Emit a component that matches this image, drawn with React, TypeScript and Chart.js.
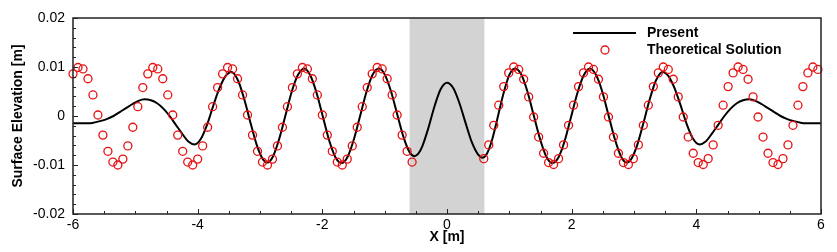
import { useEffect, useRef } from 'react';
import { Chart, registerables } from 'chart.js';

Chart.register(...registerables);

// ---------- data ----------
const theoryX: number[] = [
  -6.00, -5.92, -5.84, -5.76, -5.68, -5.60, -5.52, -5.44, -5.36, -5.28, -5.20, -5.12, -5.04, -4.96, -4.88,
  -4.80, -4.72, -4.64, -4.56, -4.48, -4.40, -4.32, -4.24, -4.16, -4.08, -4.00, -3.92, -3.84, -3.76, -3.68,
  -3.60, -3.52, -3.44, -3.36, -3.28, -3.20, -3.12, -3.04, -2.96, -2.88, -2.80, -2.72, -2.64, -2.56, -2.48,
  -2.40, -2.32, -2.24, -2.16, -2.08, -2.00, -1.92, -1.84, -1.76, -1.68, -1.60, -1.52, -1.44, -1.36, -1.28,
  -1.20, -1.12, -1.04, -0.96, -0.88, -0.80, -0.72, -0.64, -0.56,
  0.59, 0.67, 0.75, 0.83, 0.91, 0.99, 1.07, 1.15, 1.23, 1.31, 1.39, 1.47, 1.55, 1.63, 1.71,
  1.79, 1.87, 1.95, 2.03, 2.11, 2.19, 2.27, 2.35, 2.43, 2.51, 2.59, 2.67, 2.75, 2.83, 2.91,
  2.99, 3.07, 3.15, 3.23, 3.31, 3.39, 3.47, 3.55, 3.63, 3.71, 3.79, 3.87, 3.95, 4.03, 4.11,
  4.19, 4.27, 4.35, 4.43, 4.51, 4.59, 4.67, 4.75, 4.83, 4.91, 4.99, 5.07, 5.15, 5.23, 5.31,
  5.39, 5.47, 5.55, 5.63, 5.71, 5.79, 5.87, 5.95,
];

const theoryY: number[] = [
  0.0086, 0.0099, 0.0096, 0.0076, 0.0043, 0.0002, -0.0039, -0.0072, -0.0094, -0.0100, -0.0088, -0.0061, -0.0023, 0.0019, 0.0058,
  0.0086, 0.0099, 0.0096, 0.0076, 0.0043, 0.0002, -0.0039, -0.0072, -0.0094, -0.0100, -0.0088, -0.0061, -0.0023, 0.0019, 0.0058,
  0.0086, 0.0099, 0.0096, 0.0076, 0.0043, 0.0002, -0.0039, -0.0072, -0.0094, -0.0100, -0.0088, -0.0061, -0.0023, 0.0019, 0.0058,
  0.0086, 0.0099, 0.0096, 0.0076, 0.0043, 0.0002, -0.0039, -0.0072, -0.0094, -0.0100, -0.0088, -0.0061, -0.0023, 0.0019, 0.0058,
  0.0086, 0.0099, 0.0096, 0.0076, 0.0043, 0.0002, -0.0039, -0.0072, -0.0094,
  -0.0087, -0.0059, -0.0019, 0.0022, 0.0060, 0.0088, 0.0100, 0.0095, 0.0075, 0.0039, -0.0002, -0.0043, -0.0076, -0.0095, -0.0099,
  -0.0087, -0.0059, -0.0019, 0.0022, 0.0060, 0.0088, 0.0100, 0.0095, 0.0075, 0.0039, -0.0002, -0.0043, -0.0076, -0.0095, -0.0099,
  -0.0087, -0.0059, -0.0019, 0.0022, 0.0060, 0.0088, 0.0100, 0.0095, 0.0075, 0.0039, -0.0002, -0.0043, -0.0076, -0.0095, -0.0099,
  -0.0087, -0.0059, -0.0019, 0.0022, 0.0060, 0.0088, 0.0100, 0.0095, 0.0075, 0.0039, -0.0002, -0.0043, -0.0076, -0.0095, -0.0099,
  -0.0087, -0.0059, -0.0019, 0.0022, 0.0060, 0.0088, 0.0100, 0.0095,
];

const presentX: number[] = [
  -6.00, -5.85, -5.75, -5.65, -5.55, -5.45, -5.35, -5.25, -5.15, -5.05, -4.95, -4.85, -4.75, -4.65, -4.55,
  -4.45, -4.35, -4.25, -4.15, -4.05, -3.95, -3.85, -3.75, -3.65, -3.55, -3.46, -3.35, -3.25, -3.15, -3.05,
  -2.95, -2.88, -2.79, -2.69, -2.59, -2.49, -2.39, -2.29, -2.19, -2.09, -1.99, -1.89, -1.79, -1.69, -1.59,
  -1.49, -1.39, -1.29, -1.19, -1.09, -1.00, -0.90, -0.80, -0.70, -0.60, -0.52, -0.46, -0.40, -0.30, -0.20,
  -0.10, 0.00, 0.10, 0.20, 0.30, 0.40, 0.50, 0.57, 0.64, 0.72, 0.80, 0.90, 1.00, 1.09, 1.19,
  1.29, 1.39, 1.49, 1.59, 1.69, 1.79, 1.89, 1.99, 2.09, 2.19, 2.29, 2.39, 2.49, 2.59, 2.69,
  2.79, 2.88, 2.95, 3.05, 3.15, 3.25, 3.35, 3.46, 3.55, 3.65, 3.75, 3.85, 3.95, 4.05, 4.15,
  4.25, 4.35, 4.45, 4.55, 4.65, 4.75, 4.85, 4.95, 5.05, 5.15, 5.25, 5.35, 5.45, 5.55, 5.65,
  5.75, 5.85, 6.00,
];

const presentY: number[] = [
  -0.0015, -0.0015, -0.0015, -0.0013, -0.0010, -0.0006, 0.0000, 0.0008, 0.0016, 0.0024, 0.0031, 0.0034, 0.0032, 0.0026, 0.0015,
  0.0000, -0.0018, -0.0036, -0.0052, -0.0058, -0.0047, -0.0018, 0.0021, 0.0057, 0.0082, 0.0090, 0.0072, 0.0033, -0.0015, -0.0060,
  -0.0089, -0.0095, -0.0082, -0.0046, 0.0002, 0.0050, 0.0084, 0.0097, 0.0082, 0.0046, -0.0002, -0.0050, -0.0084, -0.0096, -0.0082,
  -0.0046, 0.0002, 0.0050, 0.0085, 0.0097, 0.0085, 0.0051, 0.0004, -0.0042, -0.0074, -0.0082, -0.0077, -0.0063, -0.0025, 0.0020,
  0.0055, 0.0068, 0.0057, 0.0026, -0.0015, -0.0054, -0.0079, -0.0085, -0.0077, -0.0050, -0.0010, 0.0043, 0.0084, 0.0097, 0.0085,
  0.0050, 0.0002, -0.0046, -0.0082, -0.0096, -0.0084, -0.0050, -0.0002, 0.0046, 0.0082, 0.0097, 0.0084, 0.0050, 0.0002, -0.0046,
  -0.0082, -0.0095, -0.0089, -0.0060, -0.0015, 0.0033, 0.0072, 0.0090, 0.0082, 0.0057, 0.0021, -0.0018, -0.0047, -0.0058, -0.0052,
  -0.0036, -0.0018, 0.0000, 0.0015, 0.0026, 0.0032, 0.0034, 0.0031, 0.0024, 0.0016, 0.0008, 0.0000, -0.0006, -0.0010, -0.0013,
  -0.0015, -0.0015, -0.0015,
];

const xTickLabels = ['-6', '-4', '-2', '0', '2', '4', '6'];
const yTickLabels = ['-0.02', '-0.01', '0', '0.01', '0.02'];
const bandRange = [-0.6, 0.6];
const seriesNames = ['Present', 'Theoretical Solution'];

const FONT = 'Liberation Sans, Arial, Helvetica, sans-serif';
const RED = 'rgb(232,16,16)';

const bandPlugin = {
  id: 'band',
  beforeDatasetsDraw(chart: any) {
    const { ctx, chartArea, scales } = chart;
    const x0 = scales.x.getPixelForValue(bandRange[0]);
    const x1 = scales.x.getPixelForValue(bandRange[1]);
    ctx.save();
    ctx.fillStyle = '#d3d3d3';
    ctx.fillRect(x0, chartArea.top, x1 - x0, chartArea.bottom - chartArea.top);
    ctx.restore();
  },
};

const framePlugin = {
  id: 'frame',
  afterDatasetsDraw(chart: any) {
    const { ctx, chartArea, scales } = chart;
    const { left, right, top, bottom } = chartArea;
    ctx.save();
    ctx.strokeStyle = '#222';
    ctx.lineWidth = 1;
    ctx.beginPath();
    for (let v = -6; v <= 6.0001; v += 0.5) {
      const px = Math.round(scales.x.getPixelForValue(v)) + 0.5;
      const major = Math.abs(v / 2 - Math.round(v / 2)) < 1e-6;
      const len = major ? 5 : 3;
      ctx.moveTo(px, bottom);
      ctx.lineTo(px, bottom - len);
    }
    for (let i = -10; i <= 10; i++) {
      const v = i * 0.002;
      const py = Math.round(scales.y.getPixelForValue(v)) + 0.5;
      const major = i % 5 === 0;
      const len = major ? 5 : 3;
      ctx.moveTo(left, py);
      ctx.lineTo(left + len, py);
    }
    ctx.stroke();
    ctx.lineWidth = 1.5;
    ctx.strokeStyle = '#222';
    ctx.strokeRect(left, top, right - left, bottom - top);
    ctx.restore();
  },
};

const legendPlugin = {
  id: 'customLegend',
  afterDraw(chart: any) {
    const { ctx } = chart;
    ctx.save();
    ctx.font = `bold 14px ${FONT}`;
    ctx.fillStyle = '#000';
    ctx.textBaseline = 'middle';
    ctx.textAlign = 'left';
    ctx.strokeStyle = '#000';
    ctx.lineWidth = 2;
    ctx.beginPath();
    ctx.moveTo(573, 33);
    ctx.lineTo(636, 33);
    ctx.stroke();
    ctx.fillText(seriesNames[0], 647, 33);
    ctx.strokeStyle = RED;
    ctx.lineWidth = 1.3;
    ctx.beginPath();
    ctx.arc(605, 50, 4, 0, Math.PI * 2);
    ctx.stroke();
    ctx.fillText(seriesNames[1], 647, 50);
    ctx.restore();
  },
};

export default function App() {
  const canvasRef = useRef<HTMLCanvasElement | null>(null);

  useEffect(() => {
    if (!canvasRef.current) return;
    const chart = new Chart(canvasRef.current, {
      type: 'scatter',
      data: {
        datasets: [
          {
            label: seriesNames[1],
            data: theoryX.map((x, i) => ({ x, y: theoryY[i] })),
            showLine: false,
            pointStyle: 'circle',
            pointRadius: 4,
            pointBorderWidth: 1.3,
            pointBorderColor: RED,
            pointBackgroundColor: 'rgba(0,0,0,0)',
            clip: false as any,
          },
          {
            label: seriesNames[0],
            data: presentX.map((x, i) => ({ x, y: presentY[i] })),
            showLine: true,
            borderColor: '#000',
            borderWidth: 2,
            pointRadius: 0,
            cubicInterpolationMode: 'monotone',
            fill: false,
          },
        ],
      },
      options: {
        animation: false,
        responsive: false,
        devicePixelRatio: 1,
        layout: { padding: { left: 0, right: 16, top: 18, bottom: 0 } },
        plugins: {
          legend: { display: false },
          tooltip: { enabled: false },
        },
        scales: {
          x: {
            type: 'linear',
            min: -6,
            max: 6,
            grid: { display: false, drawTicks: false },
            border: { display: false },
            ticks: {
              stepSize: 2,
              autoSkip: false,
              maxRotation: 0,
              padding: 3,
              color: '#000',
              font: { family: FONT, size: 14 },
              callback: (_v: any, i: number) => xTickLabels[i],
            },
            title: {
              display: true,
              text: 'X [m]',
              color: '#000',
              font: { family: FONT, size: 14, weight: 'bold' },
              padding: { top: 0, bottom: 6 },
            },
            afterFit: (s: any) => {
              s.height = 38;
            },
          },
          y: {
            type: 'linear',
            min: -0.02,
            max: 0.02,
            grid: { display: false, drawTicks: false },
            border: { display: false },
            ticks: {
              stepSize: 0.01,
              autoSkip: false,
              padding: 8,
              color: '#000',
              font: { family: FONT, size: 14 },
              callback: (_v: any, i: number) => yTickLabels[i],
            },
            title: {
              display: true,
              text: 'Surface Elevation [m]',
              color: '#000',
              font: { family: FONT, size: 14, weight: 'bold' },
              padding: { top: 10, bottom: 0 },
            },
            afterFit: (s: any) => {
              s.width = 73;
            },
          },
        },
      } as any,
      plugins: [bandPlugin, framePlugin, legendPlugin],
    });
    return () => chart.destroy();
  }, []);

  return (
    <div style={{ position: 'absolute', left: 0, top: 0, width: 837, height: 252, background: '#fff' }}>
      <canvas ref={canvasRef} width={837} height={252} style={{ display: 'block' }} />
    </div>
  );
}
